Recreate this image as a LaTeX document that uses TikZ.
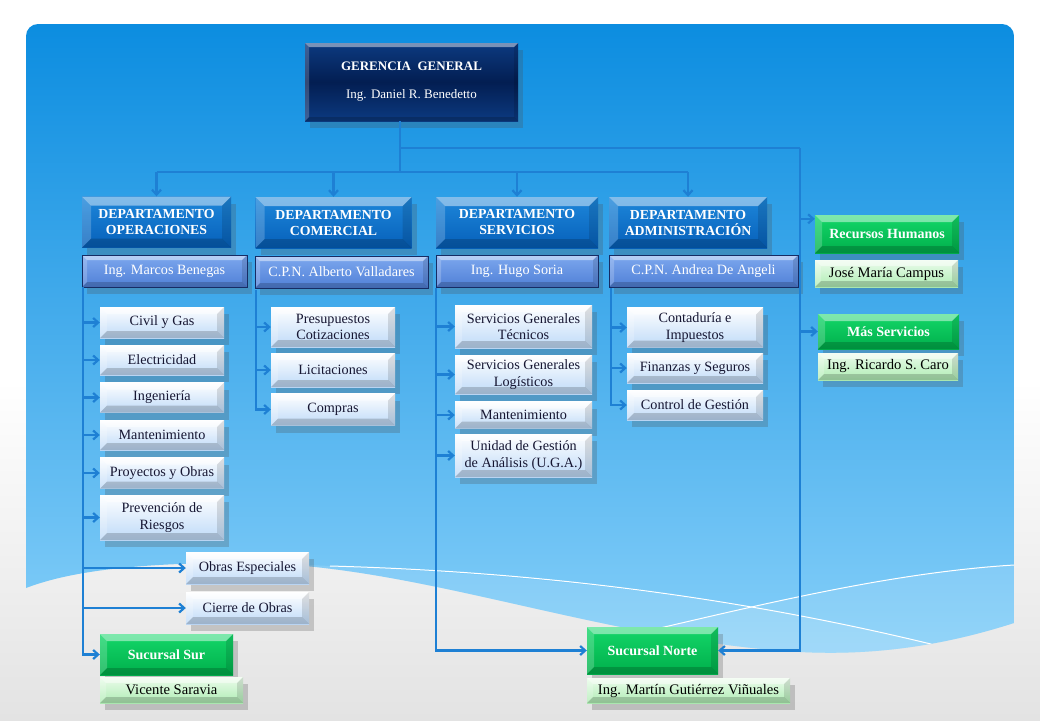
\documentclass[tikz,border=0pt]{standalone}
\usepackage{fontspec}
\setmainfont{Liberation Serif}
\usetikzlibrary{calc,shadows,arrows.meta}

\definecolor{bgTop}{RGB}{12,141,224}
\definecolor{bgBot}{RGB}{133,207,249}
\definecolor{navyL}{RGB}{12,58,128}
\definecolor{navyD}{RGB}{3,30,82}
\definecolor{deptL}{RGB}{30,135,218}
\definecolor{deptD}{RGB}{6,96,186}
\definecolor{headL}{RGB}{125,168,238}
\definecolor{headD}{RGB}{80,128,215}
\definecolor{headLine}{RGB}{22,44,100}
\definecolor{subD}{RGB}{190,218,248}
\definecolor{subText}{RGB}{22,22,50}
\definecolor{grnL}{RGB}{20,215,105}
\definecolor{grnD}{RGB}{0,175,75}
\definecolor{nameL}{RGB}{235,252,235}
\definecolor{nameD}{RGB}{175,236,180}
\definecolor{linkC}{RGB}{30,128,212}

% outline of the slide, wave at the bottom
\newcommand{\slideOutline}{(26,588) [rounded corners=12pt] -- (26,24) -- (1014,24) [sharp corners] -- (1014,623)
  .. controls (930,650) and (860,655) .. (800,652)
  .. controls (600,640) and (420,565) .. (250,563)
  .. controls (120,562) and (60,575) .. (26,588) -- cycle}

\begin{document}
\begin{tikzpicture}[x=1pt, y=-1pt, >={Straight Barb[length=5pt,width=9pt]},
  bevel/.style={path picture={
    \coordinate (pNW) at (path picture bounding box.north west);
    \coordinate (pNE) at (path picture bounding box.north east);
    \coordinate (pSW) at (path picture bounding box.south west);
    \coordinate (pSE) at (path picture bounding box.south east);
    \coordinate (qNW) at ([xshift=#1,yshift=-#1]pNW);
    \coordinate (qNE) at ([xshift=-#1,yshift=-#1]pNE);
    \coordinate (qSW) at ([xshift=#1,yshift=#1]pSW);
    \coordinate (qSE) at ([xshift=-#1,yshift=#1]pSE);
    \fill[white,opacity=.45] (pNW) -- (pNE) -- (qNE) -- (qNW) -- cycle;
    \fill[white,opacity=.2] (pNW) -- (qNW) -- (qSW) -- (pSW) -- cycle;
    \fill[black,opacity=.12] (pNE) -- (qNE) -- (qSE) -- (pSE) -- cycle;
    \fill[black,opacity=.18] (pSW) -- (qSW) -- (qSE) -- (pSE) -- cycle;
  }},
  bevel/.default=7pt,
  box/.style={rectangle, inner sep=2pt, align=center,
    drop shadow={shadow xshift=5pt, shadow yshift=-7pt, opacity=.25, fill=black!70}},
  gerbox/.style={box, minimum width=213pt, minimum height=78pt, top color=navyL, bottom color=navyL,
    middle color=navyD, text=white, font=\fontsize{13}{15}\selectfont, bevel=4pt},
  deptbox/.style={box, minimum height=51pt, top color=deptL, bottom color=deptD, text=white,
    font=\bfseries\fontsize{13.8}{16}\selectfont, bevel=9pt},
  headbox/.style={box, minimum height=32pt, top color=headL, bottom color=headD, draw=headLine,
    line width=1pt, text=white, font=\fontsize{14.2}{16}\selectfont, bevel=5pt},
  subbox/.style={box, minimum width=124pt, top color=white, bottom color=subD, text=subText,
    font=\fontsize{14.2}{16.5}\selectfont, bevel=7pt},
  greenbox/.style={box, top color=grnL, bottom color=grnD, text=white,
    font=\bfseries\fontsize{14}{16}\selectfont, bevel=7pt},
  namebox/.style={box, top color=nameL, bottom color=nameD, text=black,
    font=\fontsize{14.6}{16}\selectfont, bevel=6pt},
  link/.style={draw=linkC, line width=2.2pt}]

  \useasboundingbox (0,0) rectangle (1040,720);

  % background
  \fill[white] (0,0) rectangle (1040,720);
  \shade[top color=white, bottom color=gray!22] (0,380) rectangle (1040,720);
  \shade[top color=bgTop, bottom color=bgBot] \slideOutline;
  \begin{scope}
    \clip \slideOutline;
    \fill[white,opacity=.12] (250,563) .. controls (550,572) and (750,600) .. (935,645) -- (935,720) -- (250,720) -- cycle;
    \fill[white,opacity=.12] (660,628) .. controls (780,600) and (900,572) .. (1014,565) -- (1014,720) -- (660,720) -- cycle;
    \draw[white,line width=1pt] (330,566) .. controls (550,572) and (750,600) .. (935,645);
    \draw[white,line width=1pt] (660,628) .. controls (780,600) and (900,572) .. (1014,565);
  \end{scope}

  % top
  \node[gerbox] (ger) at (411.5,82) {\textbf{GERENCIA\ \ GENERAL}\\[13pt]Ing. Daniel R. Benedetto};

  % departments
  \node[deptbox, minimum width=149pt] (ops) at (156.5,222) {DEPARTAMENTO\\OPERACIONES};
  \node[deptbox, minimum width=156pt] (com) at (333.5,222.5) {DEPARTAMENTO\\COMERCIAL};
  \node[deptbox, minimum width=162pt] (ser) at (517,222.5) {DEPARTAMENTO\\SERVICIOS};
  \node[deptbox, minimum width=158pt] (adm) at (688,222.5) {DEPARTAMENTO\\ADMINISTRACIÓN};

  \node[headbox, minimum width=165pt] (hops) at (164.5,271) {Ing. Marcos Benegas};
  \node[headbox, minimum width=173pt] (hcom) at (341.5,272) {C.P.N. Alberto Valladares};
  \node[headbox, minimum width=162pt] (hser) at (517,271) {Ing. Hugo Soria};
  \node[headbox, minimum width=189pt] (hadm) at (703.5,271) {C.P.N. Andrea De Angeli};

  % operaciones
  \node[subbox, minimum height=31pt] (civ) at (162,322.5) {Civil y Gas};
  \node[subbox, minimum height=30pt] (ele) at (162,360) {Electricidad};
  \node[subbox, minimum height=30pt] (ing) at (162,397.5) {Ingeniería};
  \node[subbox, minimum height=30pt] (mnt) at (162,435) {Mantenimiento};
  \node[subbox, minimum height=31pt] (pyo) at (162,473) {Proyectos y Obras};
  \node[subbox, minimum height=45pt] (prv) at (162,517.5) {Prevención de\\Riesgos};
  \node[subbox, minimum width=123pt, minimum height=32pt] (obe) at (247.5,568) {Obras Especiales};
  \node[subbox, minimum width=123pt, minimum height=32pt] (cdo) at (247.5,608) {Cierre de Obras};

  % comercial
  \node[subbox, minimum height=40pt] (pyc) at (333,327) {Presupuestos\\Cotizaciones};
  \node[subbox, minimum height=34pt] (lic) at (333,370) {Licitaciones};
  \node[subbox, minimum height=32pt] (cmp) at (333,409.5) {Compras};

  % servicios
  \node[subbox, minimum width=137pt, minimum height=43pt] (sgt) at (523.5,326.5) {Servicios Generales\\Técnicos};
  \node[subbox, minimum width=137pt, minimum height=39pt] (sgl) at (523.5,374.5) {Servicios Generales\\Logísticos};
  \node[subbox, minimum width=137pt, minimum height=27pt] (smt) at (523.5,415) {Mantenimiento};
  \node[subbox, minimum width=137pt, minimum height=43pt] (uga) at (523.5,455.5) {Unidad de Gestión\\de Análisis (U.G.A.)};

  % administracion
  \node[subbox, minimum width=136pt, minimum height=40pt] (cei) at (695,327.5) {Contaduría e\\Impuestos};
  \node[subbox, minimum width=136pt, minimum height=30pt] (fys) at (695,368) {Finanzas y Seguros};
  \node[subbox, minimum width=136pt, minimum height=30pt] (cdg) at (695,405) {Control de Gestión};

  % sucursales and staff
  \node[greenbox, minimum width=133pt, minimum height=41pt] (sur) at (166.5,654.5) {Sucursal Sur};
  \node[namebox, minimum width=143pt, minimum height=26pt] (vsa) at (171.5,690) {Vicente Saravia};
  \node[greenbox, minimum width=131pt, minimum height=47pt] (nor) at (652.5,650.5) {Sucursal Norte};
  \node[namebox, minimum width=203pt, minimum height=25pt] (mgv) at (688.5,690.5) {Ing. Martín Gutiérrez Viñuales};
  \node[greenbox, minimum width=144pt, minimum height=38pt] (rrh) at (887,234) {Recursos Humanos};
  \node[namebox, minimum width=143pt, minimum height=27pt] (jmc) at (886.5,273.5) {José María Campus};
  \node[greenbox, minimum width=141pt, minimum height=35pt] (msv) at (888.5,331.5) {Más Servicios};
  \node[namebox, minimum width=140pt, minimum height=27pt] (rsc) at (888,366.5) {Ing. Ricardo S. Caro};

  % connectors
  \coordinate (busD) at (400,172);
  \coordinate (busR) at (800,148);
  \draw[link] (ger.south -| busD) -- (busD);
  \draw[link] (ops.north |- busD) -- (adm.north |- busD);
  \foreach \d in {ops,com,ser,adm}
    \draw[link,->] (\d.north |- busD) -- (\d.north);
  \draw[link] (busD |- busR) -- (busR);
  \draw[link,->] (busR) |- (nor.east);
  \draw[link,->] ($(busR |- rrh.north west)+(0,4)$) -- ($(rrh.north west)+(0,4)$);
  \draw[link,->] (busR |- msv.west) -- (msv.west);

  \coordinate (opsT) at (83,287);
  \draw[link,->] (opsT) |- (sur.west);
  \foreach \b in {civ,ele,ing,mnt,pyo,prv,obe,cdo}
    \draw[link,->] (opsT |- \b.west) -- (\b.west);

  \coordinate (comT) at (256,290);
  \draw[link,->] (comT) |- (cmp.west);
  \foreach \b in {pyc,lic}
    \draw[link,->] (comT |- \b.west) -- (\b.west);

  \coordinate (serT) at (436,288);
  \draw[link,->] (serT) |- (nor.west);
  \foreach \b in {sgt,sgl,smt,uga}
    \draw[link,->] (serT |- \b.west) -- (\b.west);

  \coordinate (admT) at (611,288);
  \draw[link,->] (admT) |- (cdg.west);
  \foreach \b in {cei,fys}
    \draw[link,->] (admT |- \b.west) -- (\b.west);
\end{tikzpicture}
\end{document}
